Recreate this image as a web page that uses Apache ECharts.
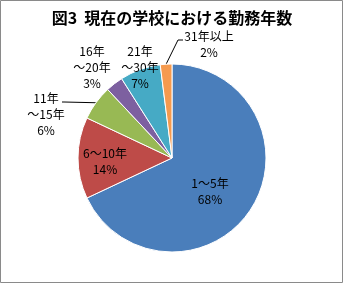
<!DOCTYPE html>
<html>
<head>
<meta charset="utf-8">
<script src="https://cdn.jsdelivr.net/npm/echarts@6/dist/echarts.min.js"></script>
<style>
html,body{margin:0;padding:0;background:#fff;}
#c{width:344px;height:284px;}
</style>
</head>
<body>
<div id="c"></div>
<script>
const categories = ['1～5年', '6～10年', '11年～15年', '16年～20年', '21年～30年', '31年以上'];
const labelNames = ['1～5年', '6～10年', '11年\n～15年', '16年\n～20年', '21年\n～30年', '31年以上'];
const values = [68, 14, 6, 3, 7, 2];
const colors = ['#4A7EBB', '#BE4B48', '#98B954', '#7D60A0', '#46AAC5', '#F59A4E'];
const titleText = '図3  現在の学校における勤務年数';

// label anchor positions and leader-line attach points (layout only)
const labelPos = [[210, 191], [105, 161], [46, 114], [92, 67], [140, 67], [209, 44]];
const lineAttach = [null, null, [[64, 102], [62, 102]], null, null, [[178, 40], [183, 40]]];

const chart = echarts.init(document.getElementById('c'), null, {renderer: 'canvas'});
const data = categories.map((c, i) => ({
  name: c,
  value: values[i],
  itemStyle: {color: colors[i]},
  label: {formatter: labelNames[i] + '\n' + values[i] + '%'},
  labelLine: {show: !!lineAttach[i]}
}));
chart.setOption({
  animation: false,
  title: {
    text: titleText,
    left: 'center',
    top: 5,
    textStyle: {fontFamily: 'Noto Sans CJK JP', fontSize: 16, fontWeight: 'bold', color: '#000'}
  },
  graphic: [{
    type: 'rect',
    shape: {x: 0.5, y: 0.5, width: 342, height: 282},
    style: {fill: 'none', stroke: '#8a8a8a', lineWidth: 1}
  }],
  series: [{
    type: 'pie',
    center: [172, 158],
    radius: 94,
    startAngle: 90,
    clockwise: true,
    data: data,
    itemStyle: {borderColor: '#fff', borderWidth: 1},
    label: {
      show: true,
      position: 'outside',
      fontFamily: 'Noto Sans CJK JP',
      fontSize: 12,
      lineHeight: 16,
      color: '#000',
      align: 'center'
    },
    labelLine: {lineStyle: {color: '#000', width: 1}, length: 8, length2: 6},
    labelLayout: function (p) {
      const i = p.dataIndex;
      const pos = labelPos[i];
      const res = {x: pos[0], y: pos[1], align: 'center', verticalAlign: 'middle'};
      if (lineAttach[i] && p.labelLinePoints) {
        res.labelLinePoints = [p.labelLinePoints[0], lineAttach[i][0], lineAttach[i][1]];
      }
      return res;
    }
  }]
});
</script>
</body>
</html>
